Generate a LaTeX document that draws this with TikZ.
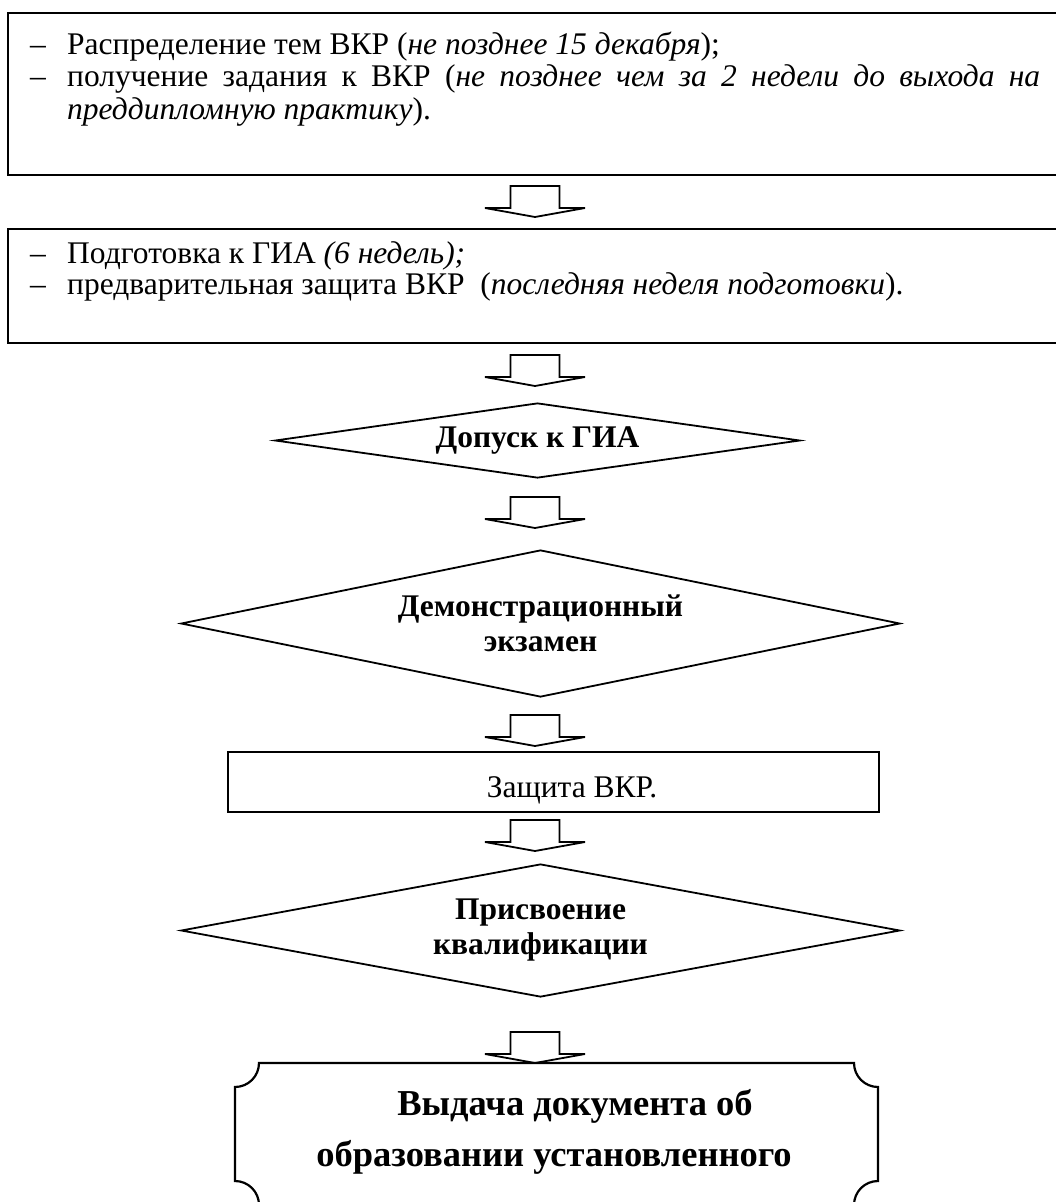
\documentclass[tikz,border=0pt]{standalone}
\usepackage{fontspec}
\setmainfont{Liberation Serif}
\usetikzlibrary{shapes.geometric}
\tikzset{
  boxline/.style={draw, line width=2.2bp, inner sep=0pt},
  diam/.style={draw, shape=diamond, line width=1.8bp, inner sep=0pt, align=center,
    font=\bfseries\fontsize{31.5bp}{35bp}\selectfont},
  arrowline/.style={draw, line width=1.8bp, line join=miter},
  txt/.style={anchor=base west, inner sep=0pt, font=\fontsize{31.5bp}{32.5bp}\selectfont},
  ctxt/.style={anchor=base, inner sep=0pt, font=\fontsize{31.5bp}{32.5bp}\selectfont},
  bigtxt/.style={anchor=base, inner sep=0pt, font=\bfseries\fontsize{36.5bp}{40bp}\selectfont},
  blockarrow/.pic={\draw[arrowline] (-24.5,0) -- (-24.5,22) -- (-50,22) -- (0,31) -- (50,22) -- (24.5,22) -- (24.5,0) -- cycle;}
}
\begin{document}
\begin{tikzpicture}[x=1bp, y=-1bp]
\useasboundingbox (0,0) rectangle (1056,1202);
\clip (0,0) rectangle (1056,1202);
% box 1
\node[boxline, anchor=north west, minimum width=1070bp, minimum height=162bp] (box1) at (7,12) {};
\node[txt] (m11) at (30,54) {–};
\node[txt] (t11) at (67,54) {Распределение тем ВКР (\textit{не позднее 15 декабря});};
\node[txt] (m12) at (30,86.5) {–};
\node[txt] (t12) at (67,86.5) {\makebox[973bp][s]{получение задания к ВКР (\textit{не позднее чем за 2 недели до выхода на}}};
\node[txt] (t13) at (67,119) {\textit{преддипломную практику}).};
% arrow 1
\coordinate (a1) at (535,186);
\pic at (a1) {blockarrow};
% box 2
\node[boxline, anchor=north west, minimum width=1070bp, minimum height=114bp] (box2) at (7,228) {};
\node[txt] (m21) at (30,263) {–};
\node[txt] (t21) at (67,263) {Подготовка к ГИА \textit{(6 недель);}};
\node[txt] (m22) at (30,294) {–};
\node[txt] (t22) at (67,294) {предварительная защита ВКР\ \ (\textit{последняя неделя подготовки}).};
% arrow 2
\coordinate (a2) at (535,355);
\pic at (a2) {blockarrow};
% diamond 1
\node[diam, aspect=7, minimum width=525bp, minimum height=75bp] (dm1) at (537.5,440.5) {Допуск к ГИА};
% arrow 3
\coordinate (a3) at (535,497);
\pic at (a3) {blockarrow};
% diamond 2
\node[diam, aspect=4.9, minimum width=719bp, minimum height=147bp] (dm2) at (540.5,623.5) {Демонстрационный\\экзамен};
% arrow 4
\coordinate (a4) at (535,715);
\pic at (a4) {blockarrow};
% box 3
\node[boxline, minimum width=651bp, minimum height=60bp] (box3) at (553.5,782) {};
\node[ctxt] (t3) at (572,797) {Защита ВКР.};
% arrow 5
\coordinate (a5) at (535,820);
\pic at (a5) {blockarrow};
% diamond 3
\node[diam, aspect=5.4, minimum width=719bp, minimum height=133bp] (dm3) at (540.5,930.5) {Присвоение\\квалификации};
% arrow 6
\coordinate (a6) at (535,1032);
\pic at (a6) {blockarrow};
% final plaque
\draw[line width=2.2bp] (259,1063) -- (854,1063)
  .. controls (854,1076.25) and (864.75,1087) .. (878,1087) -- (878,1181)
  .. controls (864.75,1181) and (854,1191.75) .. (854,1205) -- (259,1205)
  .. controls (259,1191.75) and (248.25,1181) .. (235,1181) -- (235,1087)
  .. controls (248.25,1087) and (259,1076.25) .. (259,1063) -- cycle;
\node[bigtxt] (f1) at (575,1115) {Выдача документа об};
\node[bigtxt] (f2) at (554,1166) {образовании установленного};
\end{tikzpicture}
\end{document}
